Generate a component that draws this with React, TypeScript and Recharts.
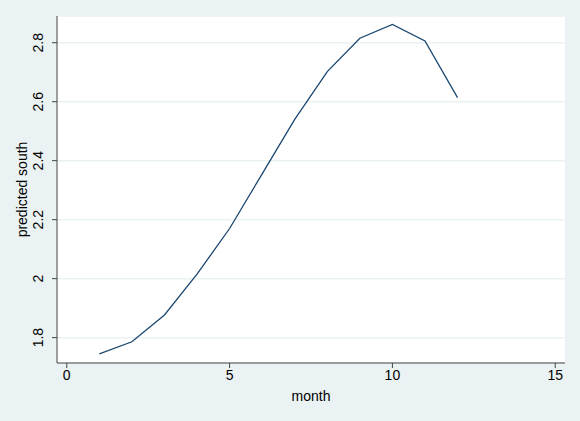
import { LineChart, Line, XAxis, YAxis, CartesianGrid } from "recharts";

const months = [1, 2, 3, 4, 5, 6, 7, 8, 9, 10, 11, 12];
const predictedSouth = [1.745, 1.786, 1.877, 2.015, 2.17, 2.355, 2.54, 2.702, 2.815, 2.862, 2.806, 2.614];
const xTicks = [0, 5, 10, 15];
const yTicks = [1.8, 2, 2.2, 2.4, 2.6, 2.8];

const data = months.map((m, i) => ({ month: m, south: predictedSouth[i] }));

const FONT = "'Liberation Sans', Arial, Helvetica, sans-serif";
const BG = "#EAF2F3";
const AXIS = "#444444";

function YTick({ x, y, payload }: { x?: number; y?: number; payload?: { value: number } }) {
  if (x == null || y == null || !payload) return null;
  return (
    <g transform={`translate(${x - 12},${y}) rotate(-90)`}>
      <text textAnchor="middle" dy="0.35em" fill="#000" fontSize={14} fontFamily={FONT}>
        {payload.value}
      </text>
    </g>
  );
}

function YLabel({ viewBox }: { viewBox?: { x: number; y: number; width: number; height: number } }) {
  if (!viewBox) return null;
  const cx = viewBox.x + 22;
  const cy = viewBox.y + viewBox.height / 2;
  return (
    <text transform={`translate(${cx},${cy}) rotate(-90)`} textAnchor="middle" dy="0.35em" fill="#000" fontSize={14} fontFamily={FONT}>
      predicted south
    </text>
  );
}

export default function App() {
  return (
    <div style={{ position: "fixed", left: 0, top: 0, width: 580, height: 421, background: BG }}>
      <LineChart width={580} height={421} data={data} margin={{ top: 16, right: 15, left: 0, bottom: 0 }}>
        <CartesianGrid vertical={false} fill="#ffffff" stroke={BG} strokeWidth={1.5} />
        <XAxis
          dataKey="month"
          type="number"
          domain={[-0.3, 15.3]}
          ticks={xTicks}
          allowDataOverflow
          height={58}
          tickSize={5}
          axisLine={{ stroke: AXIS }}
          tickLine={{ stroke: AXIS }}
          tick={{ fill: "#000", fontSize: 14, fontFamily: FONT }}
          label={{ value: "month", position: "insideBottom", offset: 20, fill: "#000", fontSize: 14, fontFamily: FONT }}
        />
        <YAxis
          type="number"
          domain={[1.714, 2.8905]}
          ticks={yTicks}
          allowDataOverflow
          width={57}
          tickSize={5}
          axisLine={{ stroke: AXIS }}
          tickLine={{ stroke: AXIS }}
          tick={<YTick />}
          label={<YLabel />}
        />
        <Line
          type="linear"
          dataKey="south"
          stroke="#1A476F"
          strokeWidth={1.3}
          dot={false}
          isAnimationActive={false}
        />
      </LineChart>
    </div>
  );
}
